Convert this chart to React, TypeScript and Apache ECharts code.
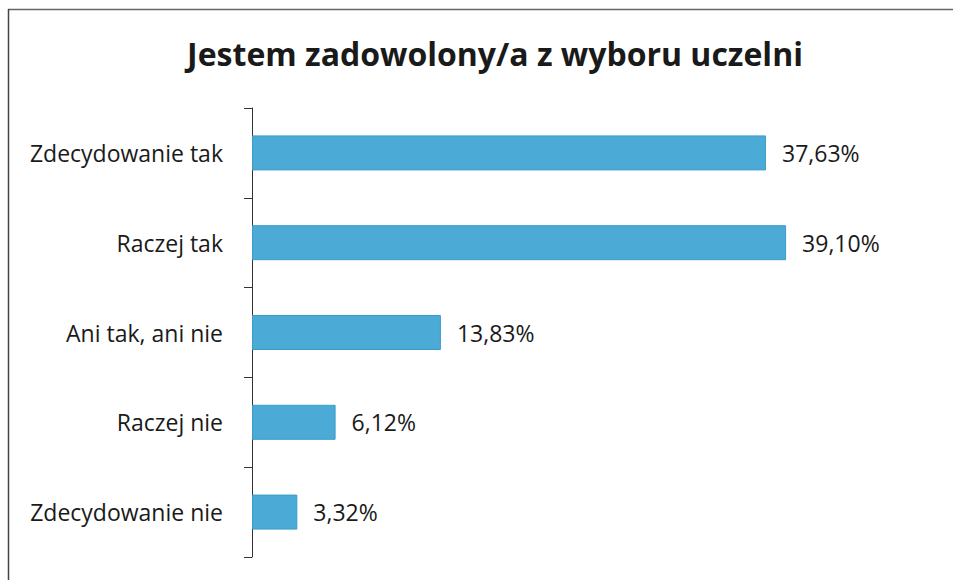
import React, { useEffect, useRef } from "react";
import * as echarts from "echarts";

const TITLE = "Jestem zadowolony/a z wyboru uczelni";
const categories = ["Zdecydowanie tak", "Raczej tak", "Ani tak, ani nie", "Raczej nie", "Zdecydowanie nie"];
const values = [37.63, 39.1, 13.83, 6.12, 3.32];

export default function App() {
  const ref = useRef<HTMLDivElement>(null);
  useEffect(() => {
    const chart = echarts.init(ref.current!, undefined, { renderer: "svg" });
    chart.setOption({
      animation: false,
      backgroundColor: "#ffffff",
      title: {
        text: TITLE,
        left: 490,
        textAlign: "center",
        top: 32,
        textStyle: { fontFamily: "Open Sans", fontWeight: "bold", fontSize: 32, color: "#1a1a1a" },
      },
      graphic: [
        { type: "line", shape: { x1: 8, y1: 9.5, x2: 953, y2: 9.5 }, style: { stroke: "#666", lineWidth: 1.5 } },
        { type: "line", shape: { x1: 8.5, y1: 9, x2: 8.5, y2: 580 }, style: { stroke: "#444", lineWidth: 1.5 } },
      ],
      grid: { left: 252, top: 108, width: 683, height: 449, containLabel: false },
      xAxis: { type: "value", min: 0, max: 50, show: false, splitLine: { show: false } },
      yAxis: {
        type: "category",
        data: categories,
        inverse: true,
        axisLine: { show: true, lineStyle: { color: "#333", width: 1 } },
        axisTick: { show: true, length: 8, lineStyle: { color: "#333" } },
        axisLabel: { margin: 29, fontFamily: "Open Sans", fontSize: 23, color: "#1a1a1a" },
      },
      series: [
        {
          type: "bar",
          data: values,
          barWidth: 35,
          itemStyle: { color: "#4babd6", borderColor: "#3d9cc8", borderWidth: 1 },
          label: {
            show: true,
            position: "right",
            distance: 16,
            fontFamily: "Open Sans",
            fontSize: 23,
            color: "#1a1a1a",
            formatter: (p: any) => p.value.toFixed(2).replace(".", ",") + "%",
          },
        },
      ],
    });
    return () => chart.dispose();
  }, []);
  return <div ref={ref} style={{ position: "fixed", left: 0, top: 0, width: 953, height: 580 }} />;
}
